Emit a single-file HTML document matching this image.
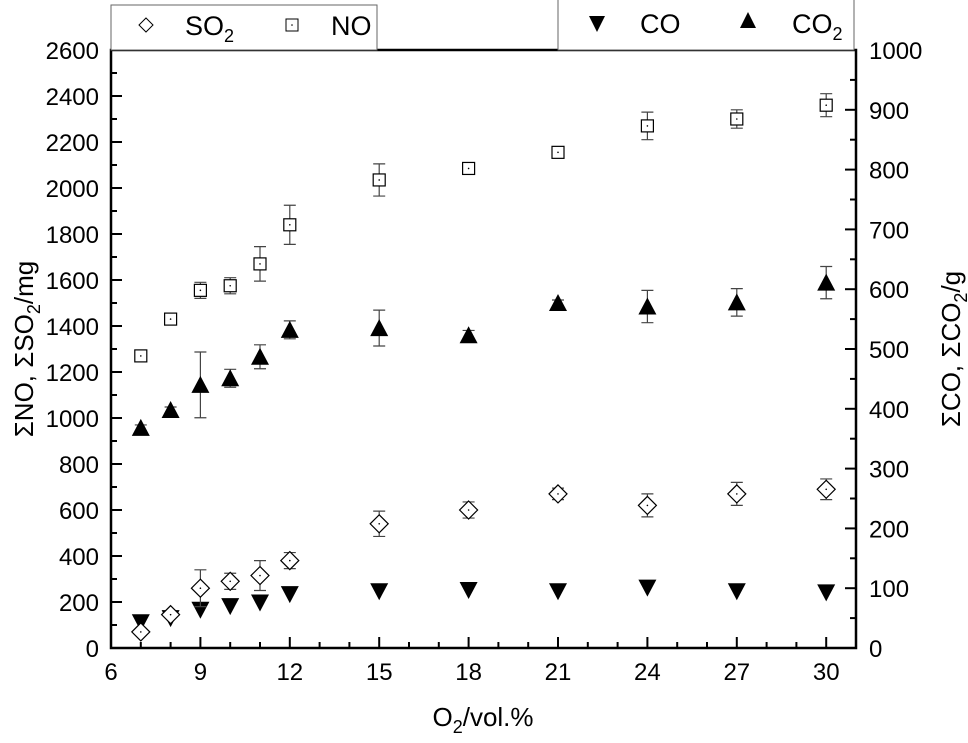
<!DOCTYPE html>
<html><head><meta charset="utf-8"><style>
body{margin:0;background:#fff;}
svg{font-family:"Liberation Sans",sans-serif;}
</style></head><body>
<svg id="chart" width="968" height="738" viewBox="0 0 968 738">
<g id="axes"></g><g id="marks"></g>
<g>
<rect x="111" y="5" width="266" height="45" fill="#fff" stroke="#666" stroke-width="1"/>
<g>
<path d="M146,18 L153,25 L146,32 L139,25 Z" fill="none" stroke="#000" stroke-width="1"/>
<text x="185" y="35" font-size="27">SO<tspan font-size="18" dy="7">2</tspan></text></g>
<g>
<rect x="286" y="19" width="12" height="12" fill="none" stroke="#000" stroke-width="1"/>
<circle cx="292" cy="25" r="0.8" fill="#000"/>
<text x="331" y="35" font-size="27">NO</text></g>
</g>
<g>
<rect x="558" y="-1" width="296" height="51" fill="#fff" stroke="#666" stroke-width="1"/>
<g>
<path d="M589,16 L605,16 L597,32 Z" fill="#000"/>
<text x="640" y="33" font-size="27">CO</text></g>
<g>
<path d="M740,28 L756,28 L748,12 Z" fill="#000"/>
<text x="792" y="33" font-size="27">CO<tspan font-size="18" dy="7">2</tspan></text></g>
</g>
<text x="483" y="726" font-size="26" text-anchor="middle">O<tspan font-size="18" dy="7">2</tspan><tspan dy="-7">/vol.%</tspan></text>
<text transform="translate(33,349) rotate(-90)" font-size="26" text-anchor="middle">ΣNO, ΣSO<tspan font-size="18" dy="7">2</tspan><tspan dy="-7">/mg</tspan></text>
<text transform="translate(960,349) rotate(-90)" font-size="26" text-anchor="middle">ΣCO, ΣCO<tspan font-size="18" dy="7">2</tspan><tspan dy="-7">/g</tspan></text>
</svg>
<script>
const xVals=[7,8,9,10,11,12,15,18,21,24,27,30];
const noVals=[1270,1430,1555,1575,1670,1840,2035,2085,2155,2270,2300,2360];
const noErr=[12,10,35,35,75,85,70,20,15,60,40,50];
const so2Vals=[70,145,260,290,315,380,540,600,670,620,670,690];
const so2Err=[10,10,80,35,65,35,55,35,25,50,50,45];
const co2Vals=[368,398,440,451,487,532,535,523,577,571,578,611];
const co2Err=[5,5,55,15,20,15,30,8,5,27,23,27];
const coVals=[43,50,64,70,76,90,95,97,95,101,95,93];
const xTicks=[6,9,12,15,18,21,24,27,30];
const yLeftTicks=[0,200,400,600,800,1000,1200,1400,1600,1800,2000,2200,2400,2600];
const yRightTicks=[0,100,200,300,400,500,600,700,800,900,1000];
const L=111,R=856,T=50,B=648;
const xs=v=>L+(v-6)*(R-L)/25;
const yl=v=>B-v*(B-T)/2600;
const yr=v=>B-v*(B-T)/1000;
const NS="http://www.w3.org/2000/svg";
const axes=document.getElementById('axes'),marks=document.getElementById('marks');
function mk(tag,at,p){const e=document.createElementNS(NS,tag);for(const k in at)e.setAttribute(k,at[k]);(p||axes).appendChild(e);return e;}
const frame=mk('path',{d:`M${L},${T} L${R},${T} L${R},${B} L${L},${B} Z`,fill:'none',stroke:'#000','stroke-width':2.5});


for(let v=6;v<=31;v++){const x=xs(v);const maj=xTicks.includes(v);
 mk('line',{x1:x,x2:x,y1:B,y2:B-(maj?11:6),stroke:'#000','stroke-width':2});}
xTicks.forEach(v=>{const t=mk('text',{x:xs(v),y:B+32,'font-size':24,'text-anchor':'middle'});t.textContent=v;
 
 });
for(let v=0;v<=2600;v+=100){const y=yl(v);const maj=v%200===0;
 mk('line',{x1:L,x2:L+(maj?11:6),y1:y,y2:y,stroke:'#000','stroke-width':2});}
yLeftTicks.forEach(v=>{const t=mk('text',{x:L-12,y:yl(v)+9,'font-size':24,'text-anchor':'end'});t.textContent=v;
 
 });
for(let v=0;v<=1000;v+=50){const y=yr(v);const maj=v%100===0;
 mk('line',{x1:R,x2:R-(maj?11:6),y1:y,y2:y,stroke:'#000','stroke-width':2});}
yRightTicks.forEach(v=>{const t=mk('text',{x:R+13,y:yr(v)+9,'font-size':24,'text-anchor':'start'});t.textContent=v;
 
 });
function err(x,y1,y2){mk('path',{d:`M${x-6},${y1} L${x+6},${y1} M${x},${y1} L${x},${y2} M${x-6},${y2} L${x+6},${y2}`,stroke:'#444','stroke-width':1.2,fill:'none'},marks);}
xVals.forEach((xv,i)=>{const x=xs(xv);
 let y=yr(coVals[i]);
 const c=mk('path',{d:`M${x-9},${y-8} L${x+9},${y-8} L${x},${y+9} Z`,fill:'#000'},marks);
 
 
 y=yr(co2Vals[i]);err(x,yr(co2Vals[i]+co2Err[i]),yr(co2Vals[i]-co2Err[i]));
 const c2=mk('path',{d:`M${x-9},${y+8} L${x+9},${y+8} L${x},${y-9} Z`,fill:'#000'},marks);
 
 
 y=yl(noVals[i]);err(x,yl(noVals[i]+noErr[i]),yl(noVals[i]-noErr[i]));
 const n=mk('rect',{x:x-6,y:y-6,width:12,height:12,fill:'#fff',stroke:'#000','stroke-width':1.2},marks);
 
 
 mk('circle',{cx:x,cy:y,r:0.8,fill:'#000'},marks);
 y=yl(so2Vals[i]);err(x,yl(so2Vals[i]+so2Err[i]),yl(so2Vals[i]-so2Err[i]));
 const s=mk('path',{d:`M${x},${y-9} L${x+9},${y} L${x},${y+9} L${x-9},${y} Z`,fill:'#fff',stroke:'#000','stroke-width':1.2},marks);
 
 
 mk('circle',{cx:x,cy:y,r:0.8,fill:'#000'},marks);
});
</script>
</body></html>
